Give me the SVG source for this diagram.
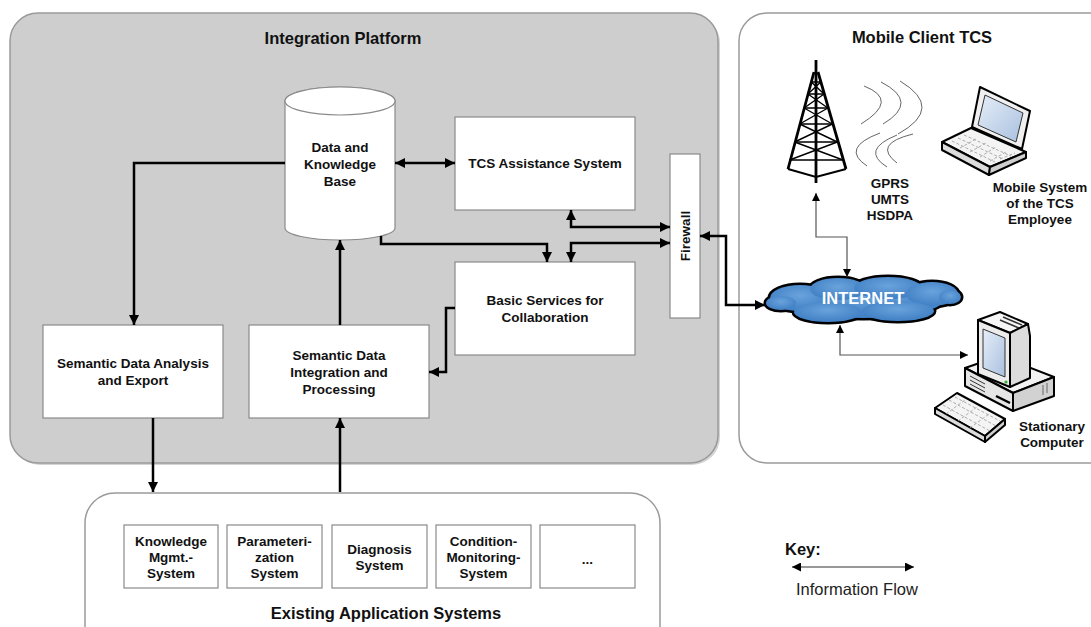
<svg xmlns="http://www.w3.org/2000/svg" width="1091" height="627" viewBox="0 0 1091 627">
  <style>
    .ttl { font: bold 16.5px "Liberation Sans", Arial, sans-serif; text-anchor: middle; fill: #111; }
    .lbl { font: bold 13.5px "Liberation Sans", Arial, sans-serif; text-anchor: middle; fill: #111; }
    .box { fill: #fff; stroke: #8a8a8a; stroke-width: 1.2; }
    .conn { fill: none; stroke: #000; stroke-width: 2.5; }
    .thin { fill: none; stroke: #555; stroke-width: 1.2; }
    .ico { stroke: #000; stroke-width: 2; stroke-linejoin: round; }
    .wave { fill: none; stroke: #666; stroke-width: 1; }
    .keys { fill: none; stroke: #999; stroke-width: 0.8; stroke-dasharray: 3 2; }
  </style>
  <defs>
    <marker id="ah" viewBox="0 0 10 10" refX="10" refY="5" markerWidth="11" markerHeight="10" markerUnits="userSpaceOnUse" orient="auto-start-reverse">
      <path d="M0,0 L10,5 L0,10 z" fill="#000"/>
    </marker>
    <marker id="ahs" viewBox="0 0 10 10" refX="10" refY="5" markerWidth="10" markerHeight="8" markerUnits="userSpaceOnUse" orient="auto-start-reverse">
      <path d="M0,0 L10,5 L0,10 z" fill="#000"/>
    </marker>
    <marker id="ahk" viewBox="0 0 10 10" refX="10" refY="5" markerWidth="13" markerHeight="9" markerUnits="userSpaceOnUse" orient="auto-start-reverse">
      <path d="M0,0 L10,5 L0,10 z" fill="#000"/>
    </marker>
    <linearGradient id="scr" x1="0" y1="0" x2="1" y2="1">
      <stop offset="0" stop-color="#e6eef8"/>
      <stop offset="1" stop-color="#a9c0df"/>
    </linearGradient>
    <radialGradient id="cloudFill" cx="0.5" cy="0.4" r="0.6">
      <stop offset="0" stop-color="#6aa3dc"/>
      <stop offset="1" stop-color="#3f7fc4"/>
    </radialGradient>
  </defs>

  <!-- containers -->
  <g id="integration-platform">
    <rect x="12" y="15" width="708" height="450" rx="28" fill="#b8b8b8" opacity="0.6"/>
    <rect x="10" y="13" width="708" height="450" rx="28" fill="#cecece" stroke="#9a9a9a" stroke-width="1.5"/>
    <text class="ttl" x="343" y="44">Integration Platform</text>
  </g>
  <g id="mobile-client">
    <rect x="739" y="13" width="380" height="450" rx="28" fill="#fff" stroke="#9a9a9a" stroke-width="1.5"/>
    <text class="ttl" x="922" y="43">Mobile Client TCS</text>
  </g>
  <g id="existing-systems">
    <rect x="85" y="493" width="575" height="180" rx="30" fill="#fff" stroke="#9a9a9a" stroke-width="1.5"/>
    <text class="ttl" x="386" y="619">Existing Application Systems</text>
  </g>

  <!-- nodes of the platform -->
  <g id="knowledge-base">
    <path d="M285,101 V228 A55,12 0 0 0 395,228 V101 A55,14 0 0 0 285,101 z" fill="#fff" stroke="#8a8a8a" stroke-width="1.2"/>
    <ellipse cx="340" cy="101" rx="55" ry="14" fill="#fff" stroke="#8a8a8a" stroke-width="1.2"/>
    <text class="lbl" x="340" y="152">Data and</text>
    <text class="lbl" x="340" y="169">Knowledge</text>
    <text class="lbl" x="340" y="186">Base</text>
  </g>
  <g id="tcs-assistance">
    <rect class="box" x="455" y="117" width="180" height="93"/>
    <text class="lbl" x="545" y="168">TCS Assistance System</text>
  </g>
  <g id="basic-services">
    <rect class="box" x="455" y="262" width="180" height="93"/>
    <text class="lbl" x="545" y="305">Basic Services for</text>
    <text class="lbl" x="545" y="322">Collaboration</text>
  </g>
  <g id="firewall">
    <rect class="box" x="670" y="154" width="30" height="164"/>
    <text class="lbl" x="0" y="0" transform="translate(690,236) rotate(-90)">Firewall</text>
  </g>
  <g id="semantic-analysis">
    <rect class="box" x="43" y="325" width="180" height="93"/>
    <text class="lbl" x="133" y="368">Semantic Data Analysis</text>
    <text class="lbl" x="133" y="385">and Export</text>
  </g>
  <g id="semantic-integration">
    <rect class="box" x="249" y="325" width="180" height="93"/>
    <text class="lbl" x="339" y="360">Semantic Data</text>
    <text class="lbl" x="339" y="377">Integration and</text>
    <text class="lbl" x="339" y="394">Processing</text>
  </g>

  <!-- application systems -->
  <g id="app-knowledge">
    <rect class="box" x="124" y="525" width="94" height="63"/>
    <text class="lbl" x="171" y="546">Knowledge</text>
    <text class="lbl" x="171" y="562">Mgmt.-</text>
    <text class="lbl" x="171" y="578">System</text>
  </g>
  <g id="app-parameterization">
    <rect class="box" x="227" y="525" width="95" height="63"/>
    <text class="lbl" x="274.5" y="546">Parameteri-</text>
    <text class="lbl" x="274.5" y="562">zation</text>
    <text class="lbl" x="274.5" y="578">System</text>
  </g>
  <g id="app-diagnosis">
    <rect class="box" x="332" y="525" width="95" height="63"/>
    <text class="lbl" x="379.5" y="554">Diagnosis</text>
    <text class="lbl" x="379.5" y="570">System</text>
  </g>
  <g id="app-condition">
    <rect class="box" x="436" y="525" width="95" height="63"/>
    <text class="lbl" x="483.5" y="546">Condition-</text>
    <text class="lbl" x="483.5" y="562">Monitoring-</text>
    <text class="lbl" x="483.5" y="578">System</text>
  </g>
  <g id="app-more">
    <rect class="box" x="540" y="525" width="95" height="63"/>
    <text class="lbl" x="587.5" y="564">...</text>
  </g>

  <!-- radio tower -->
  <g id="tower" fill="none" stroke="#000" stroke-width="1.4">
    <line x1="816" y1="60" x2="816" y2="183" stroke-width="2.8"/>
    <path d="M814,72 L788,169 M818,72 L846,169" stroke-width="2.8"/>
    <path d="M811.2,82 H820.8 M807.9,94 H824.1 M804.1,108 H827.9 M799.7,124 H832.3 M794.7,142 H837.3 M789.6,160 H843"/>
    <path d="M811.2,82 L824.1,94 M820.8,82 L807.9,94
             M807.9,94 L827.9,108 M824.1,94 L804.1,108
             M804.1,108 L832.3,124 M827.9,108 L799.7,124
             M799.7,124 L837.3,142 M832.3,124 L794.7,142
             M794.7,142 L843,160 M837.3,142 L789.6,160"/>
    <path d="M788,169 L816,177 L846,169" stroke-width="2"/>
  </g>

  <!-- radio waves -->
  <g id="waves">
    <path class="wave" d="M864,86 Q900,100 861,124"/>
    <path class="wave" d="M881,82 Q920,102 883,124"/>
    <path class="wave" d="M900,81 Q945,108 898,134"/>
    <path class="wave" d="M880,133 Q840,148 867,166"/>
    <path class="wave" d="M897,135 Q860,150 887,167"/>
    <path class="wave" d="M913,134 Q872,144 897,163"/>
    <text class="lbl" x="890" y="188">GPRS</text>
    <text class="lbl" x="890" y="204">UMTS</text>
    <text class="lbl" x="890" y="220">HSDPA</text>
  </g>

  <!-- laptop -->
  <g id="laptop">
    <polygon class="ico" points="942,142 971,128 1026,152 990,167" fill="#f4f4f4"/>
    <polygon class="ico" points="942,142 990,167 989,175 942,150" fill="#dcdcdc"/>
    <polygon class="ico" points="990,167 1026,152 1026,158 989,175" fill="#cfcfcf"/>
    <path class="keys" d="M952,141 L995,162 M958,138 L1003,159 M964,135 L1011,156 M960,148 L976,139 M970,152 L986,143 M980,157 L996,147 M990,161 L1006,152 M1000,159 L1015,153"/>
    <polygon class="ico" points="980,87 1030,111 1022,149 972,127" fill="#f0f0f0"/>
    <polygon points="985,95 1023,113 1016,142 978,125" fill="url(#scr)" stroke="#333" stroke-width="1"/>
    <text class="lbl" x="1040" y="192">Mobile System</text>
    <text class="lbl" x="1040" y="208">of the TCS</text>
    <text class="lbl" x="1040" y="224">Employee</text>
  </g>

  <!-- internet cloud -->
  <g id="internet">
    <g fill="#000" stroke="#000" stroke-width="5">
      <ellipse cx="863" cy="300" rx="80" ry="18"/>
      <ellipse cx="800" cy="298" rx="30" ry="13"/>
      <ellipse cx="838" cy="289" rx="28" ry="11"/>
      <ellipse cx="888" cy="288" rx="34" ry="11"/>
      <ellipse cx="932" cy="294" rx="26" ry="12"/>
      <ellipse cx="781" cy="303" rx="15" ry="7"/>
      <ellipse cx="950" cy="297" rx="11" ry="7"/>
      <ellipse cx="828" cy="312" rx="34" ry="10"/>
      <ellipse cx="898" cy="311" rx="36" ry="10"/>
    </g>
    <g fill="url(#cloudFill)">
      <ellipse cx="863" cy="300" rx="80" ry="18"/>
      <ellipse cx="800" cy="298" rx="30" ry="13"/>
      <ellipse cx="838" cy="289" rx="28" ry="11"/>
      <ellipse cx="888" cy="288" rx="34" ry="11"/>
      <ellipse cx="932" cy="294" rx="26" ry="12"/>
      <ellipse cx="781" cy="303" rx="15" ry="7"/>
      <ellipse cx="950" cy="297" rx="11" ry="7"/>
      <ellipse cx="828" cy="312" rx="34" ry="10"/>
      <ellipse cx="898" cy="311" rx="36" ry="10"/>
    </g>
    <text x="863" y="304" style="font: bold 16.5px 'Liberation Sans', Arial, sans-serif; text-anchor: middle; fill: #fff;">INTERNET</text>
  </g>

  <!-- desktop computer -->
  <g id="computer">
    <polygon class="ico" points="935,408 957,393 1005,419 985,436" fill="#f4f4f4"/>
    <polygon class="ico" points="935,408 985,436 985,442 935,414" fill="#dcdcdc"/>
    <polygon class="ico" points="985,436 1005,419 1005,425 985,442" fill="#cfcfcf"/>
    <path class="keys" d="M943,405 L990,431 M949,400 L996,426 M955,397 L1000,421 M946,414 L965,400 M958,421 L977,407 M970,428 L989,414"/>
    <polygon class="ico" points="965,368 1000,356 1054,377 1013,393" fill="#f2f2f2"/>
    <polygon class="ico" points="965,368 1013,393 1013,411 965,386" fill="#e6e6e6"/>
    <polygon class="ico" points="1013,393 1054,377 1054,396 1013,411" fill="#d2d2d2"/>
    <path d="M970,376 L985,384 M970,380 L985,388 M970,384 L985,392" stroke="#333" stroke-width="1"/>
    <path d="M996,396 L1010,403" stroke="#000" stroke-width="2.5"/>
    <path d="M1043,385 V395 M1047,383 V393" stroke="#666" stroke-width="1"/>
    <polygon class="ico" points="978,320 1000,312 1028,324 1010,333" fill="#f6f6f6"/>
    <path d="M1003,317 L1022,325 M1000,320 L1019,328" stroke="#333" stroke-width="1.5"/>
    <polygon class="ico" points="1010,333 1028,324 1030,336 1030,378 1010,387" fill="#dcdcdc"/>
    <polygon class="ico" points="978,320 1010,333 1010,387 978,374" fill="#ececec"/>
    <polygon points="983,329 1005,338 1005,377 983,368" fill="url(#scr)" stroke="#333" stroke-width="1"/>
    <circle cx="1006" cy="382" r="1.6" fill="#3a3"/>
    <text class="lbl" x="1052" y="431">Stationary</text>
    <text class="lbl" x="1052" y="447">Computer</text>
  </g>

  <!-- connectors -->
  <g id="connectors">
    <path class="conn" d="M285,163 H134 V325" marker-end="url(#ah)"/>
    <path class="conn" d="M395,163 H455" marker-start="url(#ah)" marker-end="url(#ah)"/>
    <path class="conn" d="M381,236 V244 H547 V262" marker-end="url(#ah)"/>
    <path class="conn" d="M571,210 V227 H670" marker-start="url(#ah)" marker-end="url(#ah)"/>
    <path class="conn" d="M571,262 V243 H670" marker-start="url(#ah)" marker-end="url(#ah)"/>
    <path class="conn" d="M455,308 H446 V372 H429" marker-end="url(#ah)"/>
    <path class="conn" d="M340,325 V240" marker-end="url(#ah)"/>
    <path class="conn" d="M153,418 V492" marker-end="url(#ah)"/>
    <path class="conn" d="M340,492 V418" marker-end="url(#ah)"/>
    <path class="conn" d="M700,236 H726 V305 H765" marker-start="url(#ah)" marker-end="url(#ah)"/>
    <path class="thin" d="M816,193 V237 H847 V277" marker-start="url(#ahs)" marker-end="url(#ahs)"/>
    <path class="thin" d="M840,325 V355 H968" marker-start="url(#ahs)" marker-end="url(#ahs)"/>
  </g>

  <!-- key -->
  <g id="key">
    <text x="785" y="555" style="font: bold 16.5px 'Liberation Sans', Arial, sans-serif; fill: #111;">Key:</text>
    <path d="M792,567 H914" stroke="#333" stroke-width="1" fill="none" marker-start="url(#ahk)" marker-end="url(#ahk)"/>
    <text x="796" y="595" style="font: 16.5px 'Liberation Sans', Arial, sans-serif; fill: #222;">Information Flow</text>
  </g>
</svg>
